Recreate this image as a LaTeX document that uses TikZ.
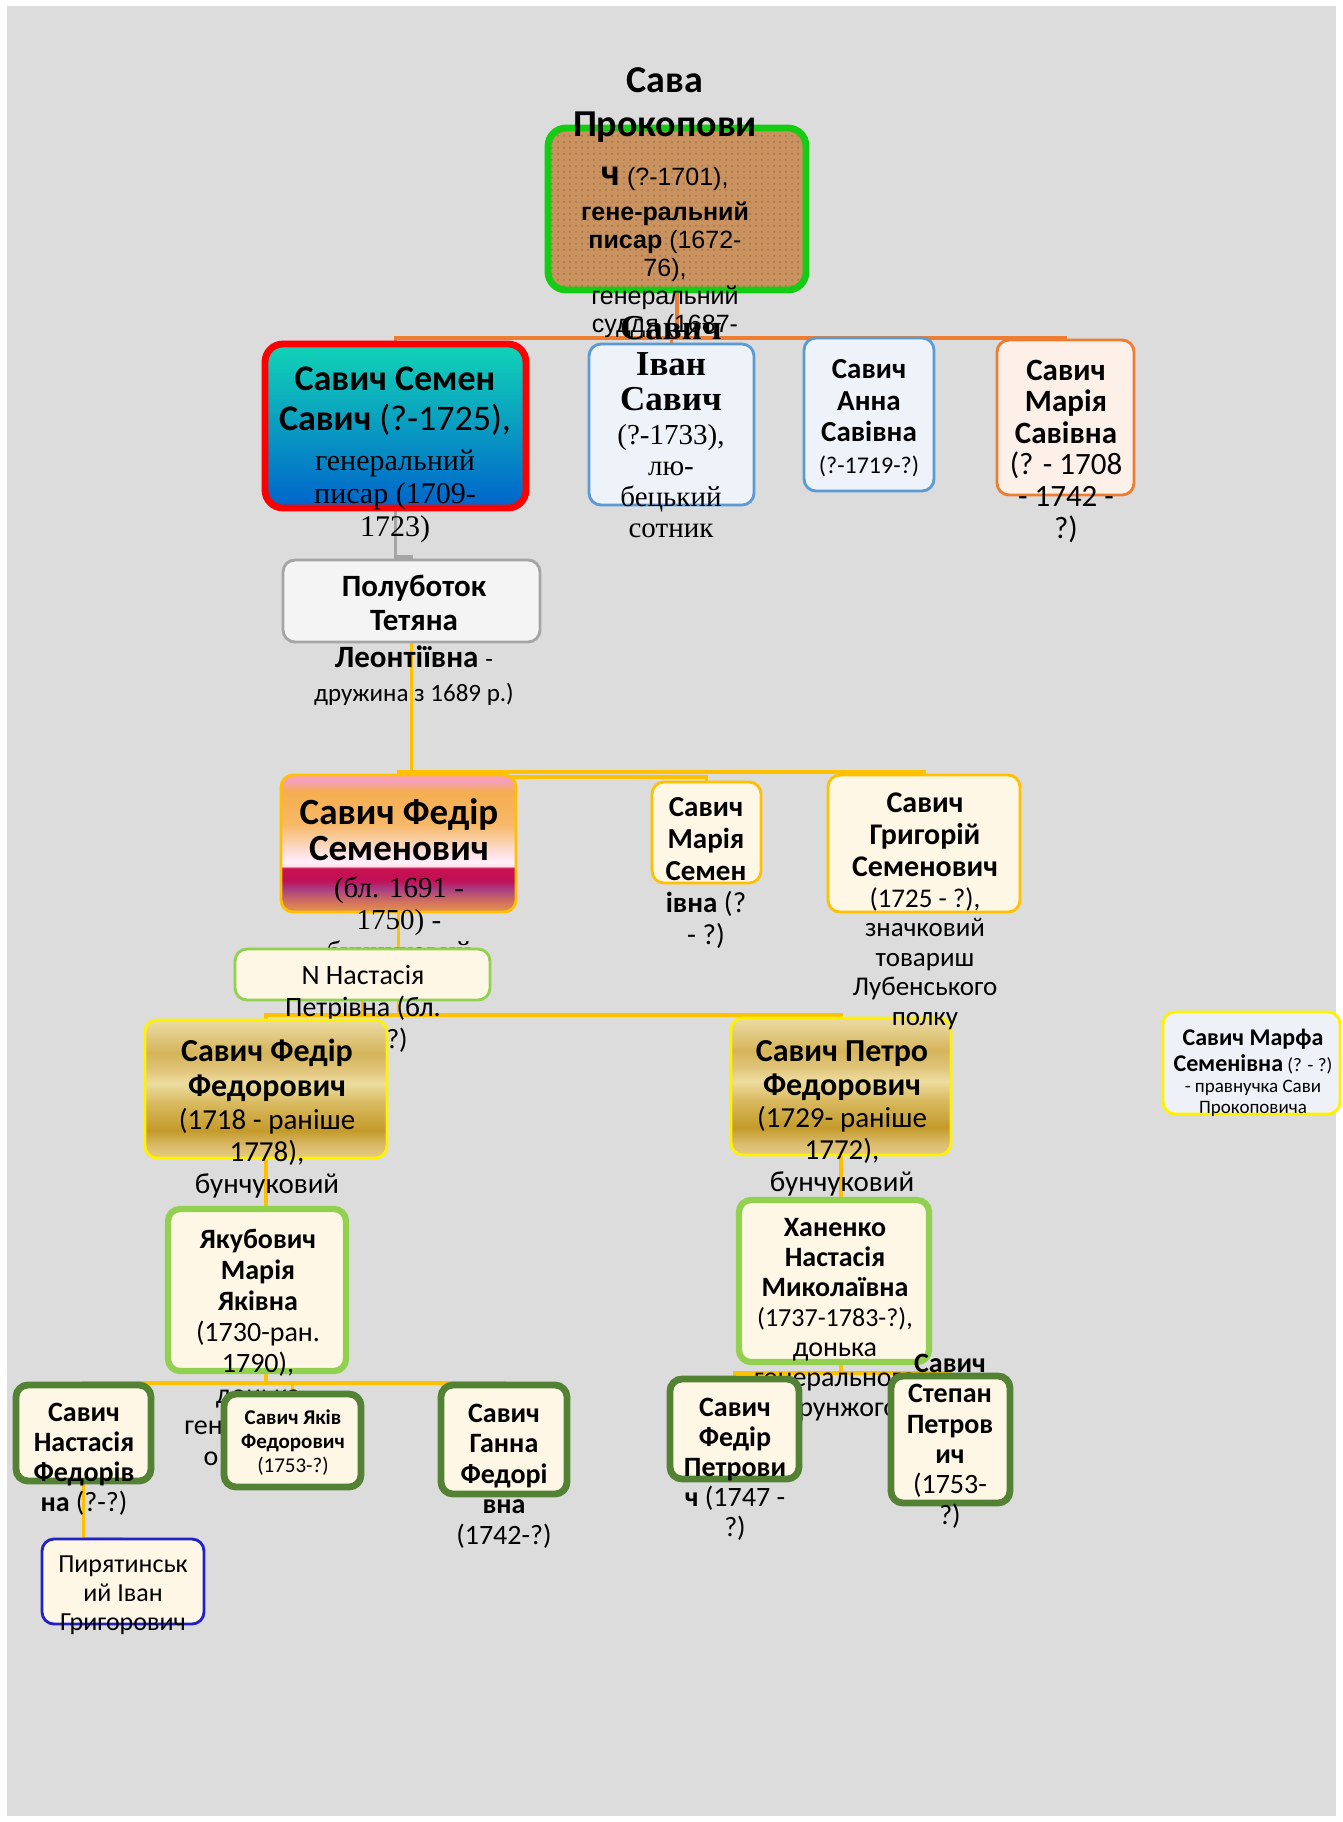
\documentclass[tikz,border=0pt]{standalone}
\usepackage{fontspec}
\setmainfont{Carlito}
\newfontfamily\calf{Carlito}
\newfontfamily\arialf{Liberation Sans}
\newfontfamily\timesf{Liberation Serif}
\usetikzlibrary{fit,patterns}
\definecolor{marble}{HTML}{DCDCDC}
\definecolor{cork}{HTML}{C9925F}
\definecolor{savagreen}{HTML}{13CC13}
\definecolor{orangeline}{HTML}{ED7D31}
\definecolor{goldline}{HTML}{FFC000}
\definecolor{grayline}{HTML}{A5A5A5}
\definecolor{limeline}{HTML}{92D050}
\definecolor{darkgreen}{HTML}{548235}
\definecolor{blueline}{HTML}{5B9BD5}
\definecolor{navyline}{HTML}{2222C4}
\definecolor{cream}{HTML}{FFF7E5}
\definecolor{iceblue}{HTML}{EEF3FA}
\definecolor{peach}{HTML}{FDF0E8}
\definecolor{paper}{HTML}{F4F4F4}
\definecolor{lavender}{HTML}{EEF2F8}
\definecolor{sementop}{HTML}{12D4B6}
\definecolor{semenmid}{HTML}{1CC4E4}
\definecolor{semenbot}{HTML}{0064CC}
\pgfdeclareverticalshading{fedirshade}{100bp}{rgb(0bp)=(0.910,0.580,0.290); rgb(25bp)=(0.910,0.580,0.290); rgb(29bp)=(0.816,0.439,0.376); rgb(33.5bp)=(0.659,0.235,0.518); rgb(36.5bp)=(0.753,0.063,0.345); rgb(41bp)=(0.784,0.063,0.306); rgb(41.75bp)=(1,0.878,0.925); rgb(43bp)=(1,0.941,0.973); rgb(45.5bp)=(1,0.894,0.925); rgb(51bp)=(0.980,0.816,0.659); rgb(57bp)=(0.969,0.722,0.408); rgb(69bp)=(0.961,0.682,0.314); rgb(72.5bp)=(0.961,0.627,0.706); rgb(75bp)=(0.969,0.635,0.737); rgb(100bp)=(0.969,0.635,0.737)}
\pgfdeclareverticalshading{goldshade}{100bp}{rgb(0bp)=(0.898,0.792,0.502); rgb(25bp)=(0.898,0.792,0.502); rgb(29bp)=(0.863,0.745,0.439); rgb(35bp)=(0.769,0.604,0.165); rgb(45bp)=(0.851,0.729,0.376); rgb(52bp)=(0.929,0.867,0.627); rgb(57bp)=(0.878,0.769,0.478); rgb(63bp)=(0.835,0.706,0.353); rgb(74bp)=(0.918,0.851,0.627); rgb(100bp)=(0.918,0.851,0.627)}
\pgfdeclarelayer{marblelayer}
\pgfdeclarelayer{links}
\pgfsetlayers{marblelayer,links,main}
\tikzset{
        box/.style={rectangle, rounded corners=6pt, inner sep=0pt, outer sep=0pt},
        txt/.style={align=center, inner sep=0pt, text=black},
        corkbox/.style={box, rounded corners=9pt, draw=savagreen, line width=1.2mm, preaction={fill=cork}, pattern=dots, pattern color=cork!80!black},
        redbox/.style={box, rounded corners=9pt, draw=red, line width=1.2mm, top color=sementop, middle color=semenmid, bottom color=semenbot},
        bluebox/.style={box, draw=blueline, line width=0.5mm, fill=iceblue},
        orangebox/.style={box, draw=orangeline, line width=0.5mm, fill=peach},
        graybox/.style={box, draw=grayline, line width=0.5mm, fill=paper},
        pinkbox/.style={box, draw=goldline, line width=0.5mm, shade, shading=fedirshade},
        creambox/.style={box, draw=goldline, line width=0.5mm, fill=cream},
        goldbox/.style={box, draw=yellow, line width=0.5mm, shade, shading=goldshade},
        limethin/.style={box, draw=limeline, line width=0.5mm, fill=cream},
        limebox/.style={box, draw=limeline, line width=1.1mm, fill=cream},
        greenbox/.style={box, draw=darkgreen, line width=1.2mm, fill=cream},
        navybox/.style={box, draw=navyline, line width=0.5mm, fill=cream},
        marfabox/.style={box, draw=yellow, line width=0.5mm, fill=lavender},
        orangelink/.style={draw=orangeline, line width=0.6mm},
        graylink/.style={draw=grayline, line width=0.6mm},
        goldlink/.style={draw=goldline, line width=0.6mm}
          }
\begin{document}
\begin{tikzpicture}[x=0.5pt, y=-0.5pt]
        \useasboundingbox (0,0) rectangle (1343,1822);
        \begin{pgfonlayer}{marblelayer}
          \fill[white] (0,0) rectangle (1343,1822);
          \fill[marble] (7,6) rectangle (1336,1816);
        \end{pgfonlayer}
        % people, painted in the order in which they overlap
        \node[corkbox, fit={(548,128) (806,290)}] (sava) {};
        \node[txt, font=\arialf\fontsize{12.5}{14}\selectfont] (sava-txt) at (665,203)
          {{\calf\bfseries\fontsize{19}{20}\selectfont Сава}\\[8pt]
           {\calf\bfseries\fontsize{19}{20}\selectfont Прокопови}\\[10.5pt]
           {\calf\bfseries\fontsize{19}{20}\selectfont ч} (?-1701),\\[3.5pt]
           \textbf{гене-ральний}\\
           \textbf{писар} (1672-\\
           76),\\
           генеральний\\
           суддя (1687-};
        \node[redbox, fit={(265,344) (526,508)}] (semen) {};
        \node[txt, font=\timesf\fontsize{15}{16.5}\selectfont] (semen-txt) at (395,455)
          {{\calf\bfseries\fontsize{18}{20}\selectfont Савич Семен}\\[3.5pt]
           {\calf\fontsize{18}{20}\selectfont\textbf{Савич} (?-1725),}\\[3.5pt]
           генеральний\\
           писар (1709-\\
           1723)};
        \node[bluebox, fit={(589,344) (754,505)}] (ivan) {};
        \node[txt, font=\timesf\fontsize{14.5}{15.5}\selectfont] (ivan-txt) at (671,427)
          {{\bfseries\fontsize{17.5}{18}\selectfont Савич}\\[2.5pt]
           {\bfseries\fontsize{17.5}{18}\selectfont Іван}\\[2pt]
           {\bfseries\fontsize{17.5}{18}\selectfont Савич}\\[1.5pt]
           (?-1733),\\
           лю-\\
           бецький\\
           сотник};
        \node[bluebox, fit={(804,338) (934,491)}] (anna) {};
        \node[txt, font=\calf\bfseries\fontsize{14.5}{15.75}\selectfont] (anna-txt) at (869,418)
          {Савич\\ Анна\\ Савівна\\ {\mdseries\fontsize{12}{14}\selectfont (?-1719-?)}};
        \node[orangebox, fit={(997,340) (1134,495)}] (marias) {};
        \node[txt, font=\calf\fontsize{15.5}{15.8}\selectfont] (marias-txt) at (1066,451)
          {\textbf{Савич}\\ \textbf{Марія}\\ \textbf{Савівна}\\ (? - 1708\\ - 1742 -\\ ?)};
        \node[graybox, fit={(283,560) (540,642)}] (polubotok) {};
        \node[txt, font=\calf\fontsize{15.5}{17}\selectfont] (polubotok-txt) at (414,640)
          {\textbf{Полуботок}\\ \textbf{Тетяна}\\[1.5pt] \textbf{Леонтіївна} {\fontsize{12.5}{14}\selectfont -}\\
           {\fontsize{12.5}{14}\selectfont дружина з 1689 р.)}};
        \node[pinkbox, fit={(281,775) (516,912)}] (fedirs) {};
        \node[txt, font=\timesf\fontsize{14.5}{16}\selectfont] (fedirs-txt) at (399,883)
          {{\calf\bfseries\fontsize{18.5}{18}\selectfont Савич Федір}\\[2pt]
           {\calf\bfseries\fontsize{18.5}{18}\selectfont Семенович}\\[2.5pt]
           (бл. 1691 -\\
           1750) -\\
           бунчуковий};
        \node[creambox, fit={(652,782) (761,883)}] (mariasem) {};
        \node[txt, font=\calf\fontsize{14.5}{16}\selectfont] (mariasem-txt) at (706,873)
          {\textbf{Савич}\\ \textbf{Марія}\\ \textbf{Семен}\\ \textbf{івна} (?\\ - ?)};
        \node[limethin, fit={(235,949) (490,1000)}] (nastasian) {};
        \node[txt, font=\calf\fontsize{14}{16}\selectfont] (nastasian-txt) at (363,1009)
          {N Настасія\\ Петрівна (бл.\\ \hspace*{34pt}?)};
        \node[goldbox, fit={(145,1020) (387,1158)}] (fedirf) {};
        \node[txt, font=\calf\fontsize{14.5}{16}\selectfont] (fedirf-txt) at (267,1119)
          {{\bfseries\fontsize{16}{17}\selectfont Савич Федір}\\[1.5pt]
           {\bfseries\fontsize{16}{17}\selectfont Федорович}\\[0.5pt]
           (1718 - раніше\\
           1778),\\
           бунчуковий};
        \node[goldbox, fit={(731,1018) (951,1155)}] (petro) {};
        \node[txt, font=\calf\fontsize{14.5}{16}\selectfont] (petro-txt) at (842,1118)
          {{\bfseries\fontsize{16}{17}\selectfont Савич Петро}\\[1pt]
           {\bfseries\fontsize{16}{17}\selectfont Федорович}\\[0pt]
           (1729- раніше\\
           1772),\\
           бунчуковий};
        \node[creambox, fit={(828,775) (1020,912)}] (grygoriy) {};
        \node[txt, font=\calf\fontsize{13.5}{14.75}\selectfont] (grygoriy-txt) at (925,911)
          {{\bfseries\fontsize{15}{16}\selectfont Савич}\\[1.25pt]
           {\bfseries\fontsize{15}{16}\selectfont Григорій}\\[1.25pt]
           {\bfseries\fontsize{15}{16}\selectfont Семенович}\\[0.75pt]
           (1725 - ?),\\
           значковий\\
           товариш\\
           Лубенського\\
           полку};
        \node[marfabox, fit={(1163,1012) (1340,1114)}] (marfa) {};
        \node[txt, font=\calf\fontsize{9.5}{10.5}\selectfont] (marfa-txt) at (1253,1073)
          {{\bfseries\fontsize{12}{13}\selectfont Савич Марфа}\\[2.5pt]
           {\bfseries\fontsize{12}{13}\selectfont Семенівна} (? - ?)\\
           - правнучка Сави\\
           Прокоповича};
        \node[limebox, fit={(168,1209) (346,1371)}] (yakubovych) {};
        \node[txt, font=\calf\fontsize{14}{15.5}\selectfont] (yakubovych-txt) at (258,1347)
          {\textbf{Якубович}\\ \textbf{Марія}\\ \textbf{Яківна}\\ (1730-ран.\\ 1790),\\ донька\\ генеральног\\ о\hspace*{47pt}};
        \node[greenbox, fit={(16,1385) (151,1481)}] (nastasiaf) {};
        \node[txt, font=\calf\fontsize{14}{15}\selectfont] (nastasiaf-txt) at (84,1459)
          {\textbf{Савич}\\ \textbf{Настасія}\\ \textbf{Федорів}\\ \textbf{на} (?-?)};
        \node[greenbox, fit={(224,1394) (361,1487)}] (yakiv) {};
        \node[txt, font=\calf\fontsize{10.5}{12}\selectfont] (yakiv-txt) at (293,1443)
          {\textbf{Савич Яків}\\ \textbf{Федорович}\\ (1753-?)};
        \node[greenbox, fit={(441,1385) (567,1494)}] (hanna) {};
        \node[txt, font=\calf\fontsize{14}{15.25}\selectfont] (hanna-txt) at (504,1476)
          {\textbf{Савич}\\ \textbf{Ганна}\\ \textbf{Федорі}\\ \textbf{вна}\\ (1742-?)};
        \node[navybox, fit={(42,1539) (204,1624)}] (pyriat) {};
        \node[txt, font=\calf\fontsize{13}{14.5}\selectfont] (pyriat-txt) at (123,1595)
          {Пирятинськ\\ ий Іван\\ Григорович};
        \node[limebox, fit={(739,1200) (929,1362)}] (khanenko) {};
        \node[txt, font=\calf\fontsize{14}{15}\selectfont] (khanenko-txt) at (835,1320)
          {\textbf{Ханенко}\\ \textbf{Настасія}\\ \textbf{Миколаївна}\\ {\fontsize{13}{15}\selectfont (1737-1783-?),}\\ донька\\ генерального\\ хорунжого};
        \node[greenbox, fit={(670,1379) (799,1479)}] (fedirp) {};
        \node[txt, font=\calf\fontsize{14}{15}\selectfont] (fedirp-txt) at (735,1469)
          {\textbf{Савич}\\ \textbf{Федір}\\ \textbf{Петрови}\\ \textbf{ч} (1747 -\\ ?)};
        \node[greenbox, fit={(891,1376) (1010,1503)}] (stepan) {};
        \node[txt, font=\calf\fontsize{14}{15.2}\selectfont] (stepan-txt) at (950,1441)
          {\textbf{Савич}\\ \textbf{Степан}\\ \textbf{Петров}\\ \textbf{ич}\\ (1753-\\ ?)};
        \coordinate (busa) at (0,338);
        \coordinate (busb) at (0,557);
        \coordinate (busc) at (0,772);
        \coordinate (busc2) at (0,777);
        \coordinate (busd) at (0,1015);
        \coordinate (buse) at (0,1383);
        \coordinate (busf) at (0,1373);
        \coordinate (jy) at (fedirf.south |- yakubovych.south);
        \coordinate (jk) at (petro.south |- khanenko.south);
        \begin{pgfonlayer}{links}
        \foreach \kid in {semen,ivan,anna,marias}
          \draw[orangelink] (sava.south) |- (\kid.north |- busa) -- (\kid.north);
        \draw[graylink] (semen.south) |- (polubotok.north |- busb) -- (polubotok.north);
        \foreach \kid in {fedirs,grygoriy}
          \draw[goldlink] (polubotok.south) |- (\kid.north |- busc) -- (\kid.north);
        \draw[goldlink] (polubotok.south) |- (mariasem.north |- busc2) -- (mariasem.north);
        \foreach \kid in {fedirf,petro}
          \draw[goldlink] (fedirs.south) |- (\kid.north |- busd) -- (\kid.north);
        \draw[goldlink] (nastasian.south) -- (nastasian.south |- busd);
        \draw[goldlink] (fedirf.south) -- (fedirf.south |- yakubovych.north);
        \foreach \kid in {nastasiaf,yakiv,hanna}
          \draw[goldlink] (jy) |- (\kid.north |- buse) -- (\kid.north);
        \draw[goldlink] (nastasiaf.south) |- (pyriat.north);
        \draw[goldlink] (petro.south) -- (petro.south |- khanenko.north);
        \foreach \kid in {fedirp,stepan}
          \draw[goldlink] (jk) |- (\kid.north |- busf) -- (\kid.north);
        \end{pgfonlayer}
\end{tikzpicture}
\end{document}
